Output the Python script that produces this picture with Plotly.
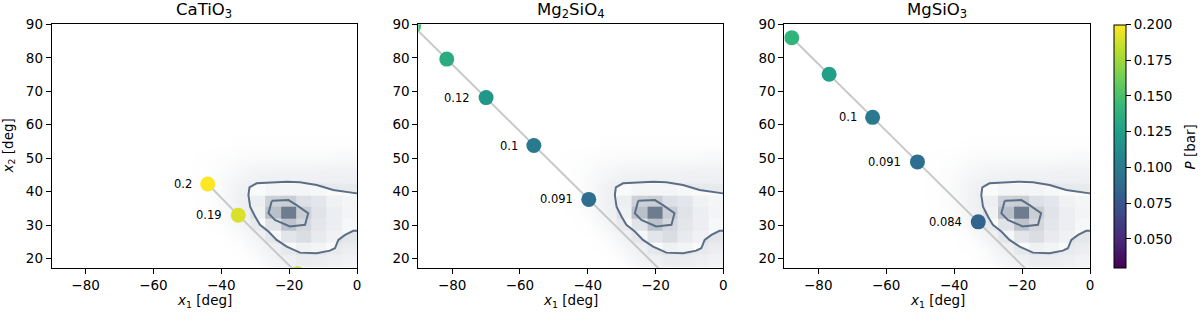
import plotly.graph_objects as go

# ---------------- data ----------------
panel_titles = ["CaTiO<sub>3</sub>", "Mg<sub>2</sub>SiO<sub>4</sub>", "MgSiO<sub>3</sub>"]
x_title = "<i>x</i><sub>1</sub> [deg]"
y_title = "<i>x</i><sub>2</sub> [deg]"
cbar_title = "<i>P</i> [bar]"

# model track points per species: x1, x2 [deg], pressure P [bar], label
ca_x1 = [-44.0, -35.0, -17.5]
ca_x2 = [42.3, 33.0, 15.5]
ca_p = [0.200, 0.190, 0.180]
ca_lbl = ["0.2", "0.19", ""]

mg2_x1 = [-91.4, -81.6, -70.0, -55.9, -39.7]
mg2_x2 = [89.4, 79.6, 68.1, 53.8, 37.7]
mg2_p = [0.150, 0.135, 0.120, 0.100, 0.091]
mg2_lbl = ["", "", "0.12", "0.1", "0.091"]

mgs_x1 = [-87.8, -76.8, -64.0, -50.8, -32.9]
mgs_x2 = [86.0, 75.1, 62.2, 48.9, 31.0]
mgs_p = [0.140, 0.125, 0.100, 0.091, 0.084]
mgs_lbl = ["", "", "0.1", "0.091", "0.084"]

# where each track continues beyond the last plotted point (below the axis)
tail_x1 = [None, -14.0, -14.0]
tail_x2 = [None, 12.0, 12.0]

# observed posterior: 2D histogram (bin edges and relative density)
dens_x_edges = [-31.5, -27.0, -22.5, -18.0, -13.5, -9.0, -4.5, 0.0]
dens_y_edges = [17.8, 21.3, 24.8, 28.3, 31.9, 35.4, 38.9, 42.4]
dens_z = [
    [0.00, 0.00, 0.00, 0.02, 0.02, 0.01, 0.00],
    [0.00, 0.00, 0.04, 0.10, 0.08, 0.04, 0.02],
    [0.00, 0.06, 0.19, 0.24, 0.15, 0.10, 0.04],
    [0.04, 0.20, 0.43, 0.28, 0.18, 0.12, 0.06],
    [0.10, 0.45, 0.94, 0.35, 0.20, 0.12, 0.08],
    [0.12, 0.33, 0.35, 0.22, 0.18, 0.10, 0.07],
    [0.04, 0.07, 0.07, 0.07, 0.06, 0.04, 0.03],
]

# density of the individual posterior samples (faint cloud)
haze_x = [-50, -45, -40, -35, -30, -25, -20, -15, -10, -5, 0, 5]
haze_y = [14, 18, 22, 26, 30, 34, 38, 42, 46, 50, 54, 58]
haze_z = [
    [0, 0, 0, 0, 0, .20, .40, .45, .40, .35, .30, .30],
    [0, 0, 0, 0, .05, .30, .50, .55, .50, .45, .40, .40],
    [0, 0, 0, .02, .20, .50, .65, .65, .60, .55, .50, .50],
    [0, 0, 0, .10, .40, .65, .70, .70, .70, .70, .70, .70],
    [0, 0, .05, .30, .60, .70, .70, .70, .70, .70, .70, .70],
    [0, .02, .15, .45, .70, .70, .70, .70, .70, .70, .70, .70],
    [0, .03, .20, .50, .70, .70, .70, .70, .70, .70, .70, .70],
    [0, .05, .20, .45, .60, .60, .60, .60, .60, .60, .60, .60],
    [0, .05, .15, .30, .40, .45, .45, .45, .50, .50, .50, .50],
    [0, .03, .08, .15, .20, .20, .20, .20, .20, .25, .25, .25],
    [0, 0, 0, .03, .05, .05, .05, .05, .05, .05, .05, .05],
    [0, 0, 0, 0, 0, 0, 0, 0, 0, 0, 0, 0],
]

# credible-region contours (outer and inner)
outer_x1 = [2.0, -0.1, -7.0, -11.9, -16.8, -20.7, -29.6, -31.7, -32.0, -31.5, -30.0, -28.6,
            -26.1, -23.7, -20.7, -16.8, -11.9, -8.0, -6.5, -5.5, -3.5, -1.1, -0.1, 2.0]
outer_x2 = [39.5, 39.5, 40.5, 42.0, 42.8, 43.0, 42.5, 41.3, 39.0, 35.5, 32.5, 30.1,
            28.1, 25.6, 23.6, 21.8, 21.6, 22.4, 23.1, 25.6, 27.1, 28.3, 28.3, 28.3]
inner_x1 = [-25.1, -20.2, -17.8, -14.4, -15.3, -19.8, -24.2, -26.1, -25.1]
inner_x2 = [37.3, 37.5, 36.0, 33.6, 30.1, 29.6, 31.6, 33.6, 37.3]

x_ticks = [-80, -60, -40, -20, 0]
y_ticks = [20, 30, 40, 50, 60, 70, 80, 90]
cbar_ticks = [0.050, 0.075, 0.100, 0.125, 0.150, 0.175, 0.200]
p_min, p_max = 0.03, 0.20

# ---------------- figure ----------------
W, H = 1200, 314
FONT = "DejaVu Sans"
FS = 13.5
SLATE = "rgb(92,110,134)"
x_dom = [[51.7 / W, 357.0 / W], [418.3 / W, 723.3 / W], [784.3 / W, 1090.0 / W]]
y_dom = [1 - 267.7 / H, 1 - 24.3 / H]
x_rng = [-90, 0]
y_rng = [17.3, 90]

tracks = [(ca_x1, ca_x2, ca_p, ca_lbl), (mg2_x1, mg2_x2, mg2_p, mg2_lbl),
          (mgs_x1, mgs_x2, mgs_p, mgs_lbl)]

fig = go.Figure()
layout = dict(
    width=W, height=H, margin=dict(l=0, r=0, t=0, b=0),
    paper_bgcolor="white", plot_bgcolor="white", showlegend=False,
    font=dict(family=FONT, color="black", size=FS),
    coloraxis=dict(
        colorscale="Viridis", cmin=p_min, cmax=p_max,
        colorbar=dict(
            x=1114.3 / W, xanchor="left", xpad=0, ypad=0,
            y=(y_dom[0] + y_dom[1]) / 2, yanchor="middle",
            len=y_dom[1] - y_dom[0], lenmode="fraction",
            thickness=12.4, thicknessmode="pixels",
            outlinewidth=1, outlinecolor="black",
            ticks="outside", ticklen=5, tickwidth=1, tickcolor="black",
            tickvals=cbar_ticks, tickformat=".3f",
            tickfont=dict(family=FONT, size=FS),
        ),
    ),
)
annotations = []

for i in range(3):
    n = i + 1
    base_x = "x" if n == 1 else f"x{n}"
    base_y = "y" if n == 1 else f"y{n}"
    ov = i + 4
    ov_x, ov_y = f"x{ov}", f"y{ov}"

    # faint sample cloud
    fig.add_trace(go.Heatmap(
        x=haze_x, y=haze_y, z=haze_z, zsmooth="best", zmin=0, zmax=1,
        colorscale=[[0, "rgba(92,110,134,0)"], [1, "rgba(92,110,134,0.19)"]],
        showscale=False, hoverinfo="skip", xaxis=base_x, yaxis=base_y))
    # white fill inside outer contour (hides samples)
    fig.add_trace(go.Scatter(
        x=outer_x1, y=outer_x2, mode="lines", fill="toself", fillcolor="white",
        line=dict(width=0, color="white"), hoverinfo="skip", xaxis=base_x, yaxis=base_y))

    # overlay subplot: density, contours, track
    fig.add_trace(go.Heatmap(
        x=dens_x_edges, y=dens_y_edges, z=dens_z, zmin=0, zmax=1,
        colorscale=[[0, "rgba(100,116,136,0)"], [1, "rgba(100,116,136,1)"]],
        showscale=False, hoverinfo="skip", xaxis=ov_x, yaxis=ov_y))
    for cx, cy in [(outer_x1, outer_x2), (inner_x1, inner_x2)]:
        fig.add_trace(go.Scatter(
            x=cx, y=cy, mode="lines", line=dict(color=SLATE, width=2),
            hoverinfo="skip", xaxis=ov_x, yaxis=ov_y))

    tx1, tx2, tp, tl = tracks[i]
    lx = list(tx1) + ([tail_x1[i]] if tail_x1[i] is not None else [])
    ly = list(tx2) + ([tail_x2[i]] if tail_x2[i] is not None else [])
    fig.add_trace(go.Scatter(
        x=lx, y=ly, mode="lines", line=dict(color="rgb(200,200,200)", width=2),
        hoverinfo="skip", xaxis=ov_x, yaxis=ov_y))
    fig.add_trace(go.Scatter(
        x=tx1, y=tx2, mode="markers",
        marker=dict(size=15, color=tp, coloraxis="coloraxis", line=dict(width=0)),
        xaxis=ov_x, yaxis=ov_y))

    for xv, yv, lab in zip(tx1, tx2, tl):
        if lab:
            annotations.append(dict(
                x=xv, y=yv, xref=base_x, yref=base_y, text=lab, showarrow=False,
                xanchor="right", yanchor="middle", xshift=-14,
                font=dict(family=FONT, size=11.5, color="black")))

    axis_common = dict(showline=True, mirror=True, linecolor="black", linewidth=1,
                       ticks="outside", ticklen=5, tickwidth=1, tickcolor="black",
                       showgrid=False, zeroline=False, automargin=False,
                       tickfont=dict(family=FONT, size=FS))
    xkey = "xaxis" if n == 1 else f"xaxis{n}"
    ykey = "yaxis" if n == 1 else f"yaxis{n}"
    layout[xkey] = dict(axis_common, domain=x_dom[i], range=x_rng, tickvals=x_ticks,
                        anchor=base_y)
    layout[ykey] = dict(axis_common, domain=y_dom, range=y_rng, tickvals=y_ticks,
                        anchor=base_x)
    layout[f"xaxis{ov}"] = dict(domain=x_dom[i], range=x_rng, overlaying=base_x,
                                anchor=ov_y, visible=False, showgrid=False, zeroline=False)
    layout[f"yaxis{ov}"] = dict(domain=y_dom, range=y_rng, overlaying=base_y,
                                anchor=ov_x, visible=False, showgrid=False, zeroline=False)

    # panel title
    annotations.append(dict(
        x=(x_dom[i][0] + x_dom[i][1]) / 2, y=1 - 10.5 / H, xref="paper", yref="paper",
        text=panel_titles[i], showarrow=False, xanchor="center", yanchor="middle",
        font=dict(family=FONT, size=16.5, color="black")))
    # x-axis title
    annotations.append(dict(
        x=(x_dom[i][0] + x_dom[i][1]) / 2, y=1 - 301.0 / H, xref="paper", yref="paper",
        text=x_title, showarrow=False, xanchor="center", yanchor="middle",
        font=dict(family=FONT, size=FS, color="black")))

# y-axis title (first panel only)
annotations.append(dict(
    x=8.5 / W, y=(y_dom[0] + y_dom[1]) / 2, xref="paper", yref="paper",
    text=y_title, showarrow=False, textangle=-90, xanchor="center", yanchor="middle",
    font=dict(family=FONT, size=FS, color="black")))
# colorbar title
annotations.append(dict(
    x=1189.5 / W, y=1 - 147.0 / H, xref="paper", yref="paper",
    text=cbar_title, showarrow=False, textangle=-90, xanchor="center", yanchor="middle",
    font=dict(family=FONT, size=FS, color="black")))

layout["annotations"] = annotations
fig.update_layout(**layout)
fig.write_html("out.html", config={"displayModeBar": False},
               post_script="document.body.style.margin='0px';document.body.style.overflow='hidden';")
